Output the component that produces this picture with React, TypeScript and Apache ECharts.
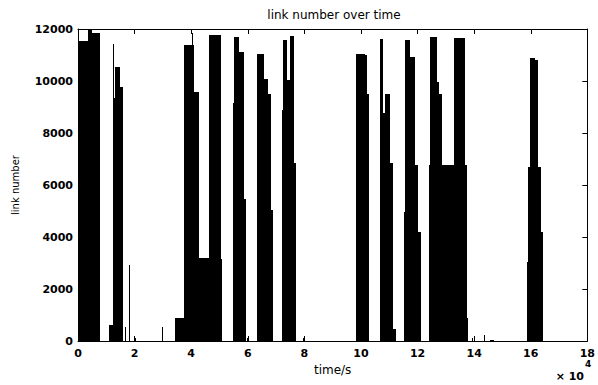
import React, { useEffect, useRef } from "react";
import * as echarts from "echarts";

// time in units of 10^4 s
const segStart = [
  0.0, 0.36, 0.48,
  1.1, 1.22, 1.24, 1.3, 1.47, 1.65, 1.8, 2.01, 2.97,
  3.44, 3.75, 4.03, 4.07, 4.11, 4.26, 4.63, 5.04,
  5.47, 5.53, 5.68, 5.86, 5.96,
  6.33, 6.56, 6.71, 6.83,
  7.2, 7.26, 7.38, 7.5, 7.65, 7.95,
  9.84, 10.13, 10.22,
  10.69, 10.77, 10.85, 11.01, 11.12,
  11.51, 11.55, 11.73, 11.91, 12.02,
  12.41, 12.44, 12.7, 12.76, 12.88, 13.29, 13.66, 13.73,
  13.93, 14.34, 14.56,
  15.86, 15.89, 15.98, 16.15, 16.27, 16.35,
];
const segEnd = [
  0.36, 0.48, 0.77,
  1.22, 1.24, 1.3, 1.47, 1.59, 1.67, 1.85, 2.03, 2.99,
  3.75, 4.03, 4.07, 4.11, 4.26, 4.63, 5.04, 5.1,
  5.53, 5.68, 5.86, 5.92, 5.99,
  6.56, 6.71, 6.83, 6.88,
  7.26, 7.38, 7.5, 7.65, 7.69, 7.97,
  10.13, 10.22, 10.3,
  10.77, 10.85, 11.01, 11.12, 11.24,
  11.55, 11.73, 11.91, 12.02, 12.12,
  12.44, 12.7, 12.76, 12.88, 13.29, 13.66, 13.73, 13.76,
  13.95, 14.37, 14.69,
  15.89, 15.98, 16.15, 16.27, 16.35, 16.42,
];
const segValue = [
  11550, 11950, 11850,
  615, 11420, 9350, 10520, 9760, 550, 2920, 100, 550,
  870, 11380, 11830, 11380, 9590, 3180, 11770, 3170,
  9150, 11700, 11130, 5460, 100,
  11050, 10060, 9490, 5040,
  8880, 11580, 10040, 11720, 6860, 100,
  11050, 11000, 9490,
  11610, 8760, 9490, 6830, 460,
  4970, 11580, 10940, 6770, 4200,
  6770, 11700, 9970, 9490, 6770, 11640, 6770, 880,
  100, 230, 40,
  3050, 6700, 10870, 10800, 6700, 4200,
];

const xTicks = [0, 18, 2];
const yTicks = [0, 12000, 2000];

const FONT = "DejaVu Sans";

export default function App() {
  const ref = useRef<HTMLDivElement>(null);
  useEffect(() => {
    if (!ref.current) return;
    const chart = echarts.init(ref.current, null, { renderer: "svg" });
    const data = segStart.map((s, i) => [s, segEnd[i], segValue[i]]);
    const axisLine = { show: true, onZero: false, lineStyle: { color: "#000", width: 1 } };
    const tick = { show: true, inside: true, length: 5, lineStyle: { color: "#000", width: 1 } };
    const label = {
      color: "#000",
      fontFamily: FONT,
      fontSize: 11,
      fontWeight: "bold" as const,
      formatter: (v: number) => String(v),
    };
    chart.setOption({
      animation: false,
      backgroundColor: "#fff",
      textStyle: { fontFamily: FONT },
      grid: { left: 78, right: 7, top: 29, bottom: 44, containLabel: false },
      xAxis: [
        {
          type: "value",
          min: xTicks[0],
          max: xTicks[1],
          interval: xTicks[2],
          position: "bottom",
          axisLine,
          axisTick: tick,
          splitLine: { show: false },
          axisLabel: { ...label, margin: 7 },
          name: "time/s",
          nameLocation: "middle",
          nameGap: 20,
          nameTextStyle: { color: "#000", fontFamily: FONT, fontSize: 12 },
        },
        {
          type: "value",
          min: xTicks[0],
          max: xTicks[1],
          interval: xTicks[2],
          position: "top",
          axisLine,
          axisTick: tick,
          splitLine: { show: false },
          axisLabel: { show: false },
        },
      ],
      yAxis: [
        {
          type: "value",
          min: yTicks[0],
          max: yTicks[1],
          interval: yTicks[2],
          position: "left",
          axisLine,
          axisTick: tick,
          splitLine: { show: false },
          axisLabel: { ...label, margin: 5 },
          name: "link number",
          nameLocation: "middle",
          nameGap: 58,
          nameTextStyle: { color: "#000", fontFamily: FONT, fontSize: 10 },
        },
        {
          type: "value",
          min: yTicks[0],
          max: yTicks[1],
          interval: yTicks[2],
          position: "right",
          axisLine,
          axisTick: tick,
          splitLine: { show: false },
          axisLabel: { show: false },
        },
      ],
      graphic: [
        {
          type: "text",
          x: 334,
          y: 15,
          style: {
            text: "link number over time",
            fill: "#000",
            font: `12px '${FONT}'`,
            textAlign: "center",
            textVerticalAlign: "middle",
          },
        },
        {
          type: "text",
          x: 584,
          y: 376,
          style: {
            text: "× 10",
            fill: "#000",
            font: `bold 11px '${FONT}'`,
            textAlign: "right",
            textVerticalAlign: "middle",
          },
        },
        {
          type: "text",
          x: 585,
          y: 364,
          style: {
            text: "4",
            fill: "#000",
            font: `bold 9px '${FONT}'`,
            textAlign: "left",
            textVerticalAlign: "middle",
          },
        },
      ],
      series: [
        {
          type: "custom",
          xAxisIndex: 0,
          yAxisIndex: 0,
          clip: true,
          encode: { x: [0, 1], y: 2 },
          data,
          renderItem: (params: any, api: any) => {
            const s = api.value(0);
            const e = api.value(1);
            const v = api.value(2);
            const p0 = api.coord([s, v]);
            const p1 = api.coord([e, 0]);
            const x0 = Math.round(p0[0]);
            let x1 = Math.round(p1[0]);
            if (x1 - x0 < 1) x1 = x0 + 1;
            const y0 = Math.round(p0[1]);
            const y1 = p1[1];
            return {
              type: "rect",
              shape: { x: x0, y: y0, width: x1 - x0, height: Math.max(1, y1 - y0) },
              style: { fill: "#000" },
            };
          },
        },
      ],
    });
    return () => chart.dispose();
  }, []);
  return (
    <div
      ref={ref}
      style={{ position: "absolute", left: 0, top: 0, width: 598, height: 385 }}
    />
  );
}
